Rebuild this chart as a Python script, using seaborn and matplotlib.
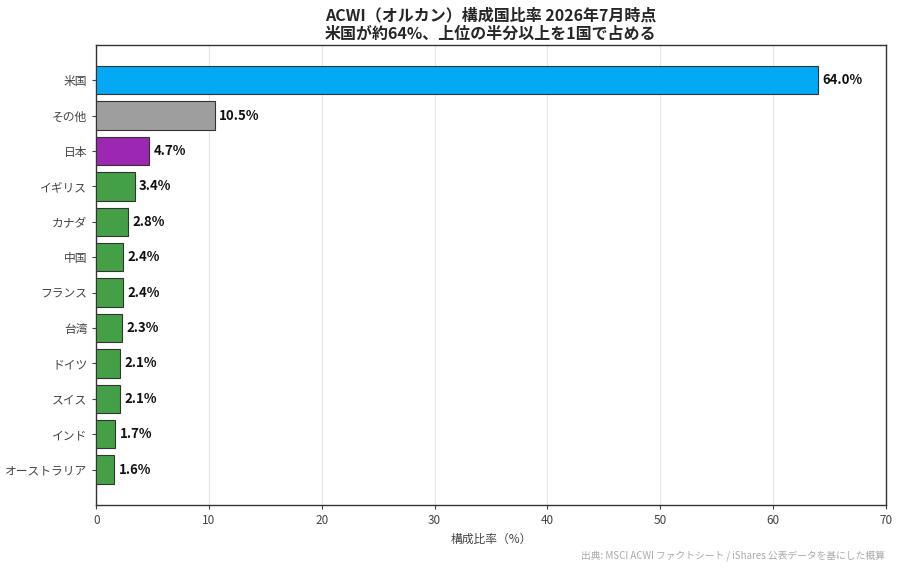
import pandas as pd
import matplotlib
matplotlib.use("Agg")
import matplotlib.pyplot as plt
import seaborn as sns

# data
countries = ["米国", "その他", "日本", "イギリス", "カナダ", "中国", "フランス",
             "台湾", "ドイツ", "スイス", "インド", "オーストラリア"]
weights = [64.0, 10.5, 4.7, 3.4, 2.8, 2.4, 2.4, 2.3, 2.1, 2.1, 1.7, 1.6]
bar_colors = ["#03A9F4", "#9E9E9E", "#9C27B0"] + ["#43A047"] * 9

df = pd.DataFrame({"country": countries, "weight": weights})

sns.set_style("white")
plt.rcParams["font.family"] = ["Noto Sans CJK JP", "DejaVu Sans"]

fig, ax = plt.subplots(figsize=(9, 5.68), dpi=100)
fig.subplots_adjust(left=0.107, right=0.984, top=0.921, bottom=0.111)

sns.barplot(data=df, x="weight", y="country", hue="country", palette=bar_colors,
            saturation=1, legend=False, width=0.8, edgecolor="#333333",
            linewidth=0.8, ax=ax, zorder=3)

for i, v in enumerate(weights):
    ax.text(v + 0.4, i, f"{v:.1f}%", va="center", ha="left",
            fontsize=9.5, fontweight="bold", color="#111111")

ax.set_xlim(0, 70)
ax.set_ylim(12, -1)
ax.set_xticks(range(0, 71, 10))
ax.grid(axis="x", color="#e6e6e6", linewidth=0.8, zorder=0)
ax.set_axisbelow(True)
for s in ax.spines.values():
    s.set_color("#333333")
    s.set_linewidth(1.0)
ax.tick_params(axis="both", labelsize=8.5, colors="#444444", length=3, direction="out",
               bottom=True, left=True)
ax.set_xlabel("構成比率（%）", fontsize=8.5, color="#444444")
ax.set_ylabel("")

ax.set_title("ACWI（オルカン）構成国比率 2026年7月時点\n米国が約64%、上位の半分以上を1国で占める",
             fontsize=11.5, fontweight="bold", linespacing=1.2, pad=4)

fig.text(0.983, 0.012, "出典: MSCI ACWI ファクトシート / iShares 公表データを基にした概算",
         ha="right", va="bottom", fontsize=7, color="#aaaaaa")

fig.savefig("out.png", dpi=100)
